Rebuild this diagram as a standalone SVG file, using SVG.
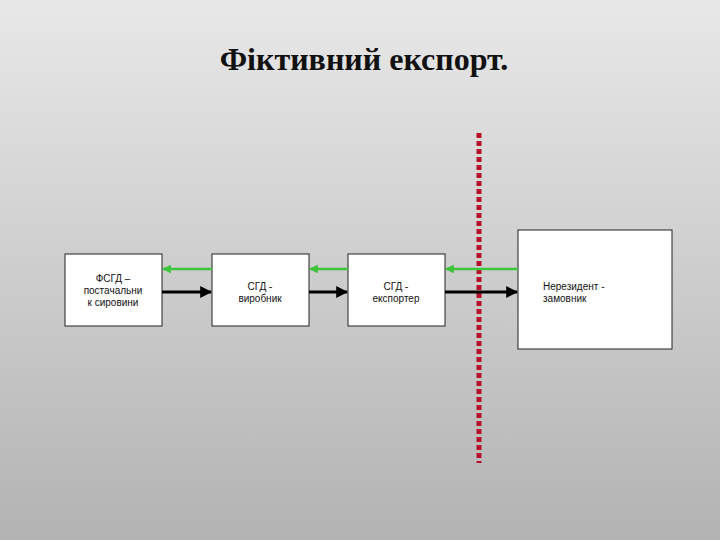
<svg xmlns="http://www.w3.org/2000/svg" width="720" height="540" viewBox="0 0 720 540">
<defs>
<linearGradient id="bg" x1="0" y1="0" x2="0" y2="1">
<stop offset="0" stop-color="#e8e8e8"/>
<stop offset="1" stop-color="#b3b3b3"/>
</linearGradient>
<marker id="ab" viewBox="0 0 10 10" refX="9" refY="5" markerWidth="4" markerHeight="4" orient="auto" markerUnits="strokeWidth">
<path d="M0,0 L10,5 L0,10 z" fill="#000"/>
</marker>
<marker id="ag" viewBox="0 0 10 10" refX="9" refY="5" markerWidth="3.5" markerHeight="3.5" orient="auto" markerUnits="strokeWidth">
<path d="M0,0 L10,5 L0,10 z" fill="#3cc43c"/>
</marker>
</defs>
<style>
.box{fill:#fff;stroke:#222;stroke-width:1}
.lbl{font-family:"Liberation Sans",Arial,sans-serif;font-size:10px;fill:#111}
.title{font-family:"Liberation Serif","Times New Roman",serif;font-size:32px;font-weight:bold;fill:#111}
.blk{stroke:#000;stroke-width:3;fill:none}
.grn{stroke:#3cc43c;stroke-width:2.5;fill:none}
</style>
<rect width="720" height="540" fill="url(#bg)"/>
<text class="title" x="364" y="70" text-anchor="middle">Фіктивний експорт.</text>
<g id="border">
<line x1="479" y1="133" x2="479" y2="463" stroke="#b8102a" stroke-width="5" stroke-dasharray="5 3"/>
</g>
<g id="n1">
<rect class="box" x="65" y="254" width="97" height="72"/>
<text class="lbl" x="113" y="282" text-anchor="middle">ФСГД –</text>
<text class="lbl" x="113" y="294" text-anchor="middle">постачальни</text>
<text class="lbl" x="113" y="306" text-anchor="middle">к сировини</text>
</g>
<g id="n2">
<rect class="box" x="212" y="254" width="97" height="72"/>
<text class="lbl" x="260" y="290" text-anchor="middle">СГД -</text>
<text class="lbl" x="260" y="302" text-anchor="middle">виробник</text>
</g>
<g id="n3">
<rect class="box" x="348" y="254" width="97" height="72"/>
<text class="lbl" x="396" y="290" text-anchor="middle">СГД -</text>
<text class="lbl" x="396" y="302" text-anchor="middle">експортер</text>
</g>
<g id="n4">
<rect class="box" x="518" y="230" width="154" height="119"/>
<text class="lbl" x="543" y="290">Нерезидент -</text>
<text class="lbl" x="543" y="302">замовник</text>
</g>
<g id="connectors">
<line class="blk" x1="162" y1="292" x2="211" y2="292" marker-end="url(#ab)"/>
<line class="blk" x1="309" y1="292" x2="347" y2="292" marker-end="url(#ab)"/>
<line class="blk" x1="445" y1="292" x2="517" y2="292" marker-end="url(#ab)"/>
<line class="grn" x1="212" y1="269" x2="163" y2="269" marker-end="url(#ag)"/>
<line class="grn" x1="348" y1="269" x2="310" y2="269" marker-end="url(#ag)"/>
<line class="grn" x1="518" y1="269" x2="446" y2="269" marker-end="url(#ag)"/>
</g>
</svg>
